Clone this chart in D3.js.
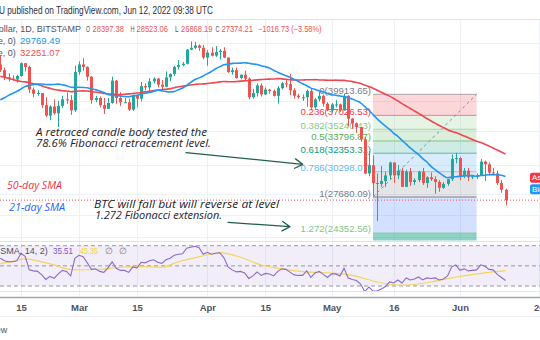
<!DOCTYPE html>
<html><head><meta charset="utf-8">
<script src="https://cdn.jsdelivr.net/npm/d3@7"></script>
<style>
html,body{margin:0;padding:0;background:#fff;overflow:hidden}
svg{display:block}
</style></head><body>
<svg id="c" width="540" height="340"></svg>
<script>
// ---------------- DATA ----------------
const firstDay = "2022-02-10"; // one candle per day, Feb 10 .. Jun 12 2022
const opens = [44400,43500,42400,42200,42100,42600,44600,44000,40600,40000,
40100,38400,37000,38200,37300,38300,39200,39100,37700,43200,
44400,44000,42500,39100,39400,38400,37900,38700,41900,39400,
38800,38800,37800,39700,39300,41100,40900,41800,42200,41300,
41000,42400,42900,44000,44300,44500,46800,47100,47500,47100,
45500,46300,45800,46400,46600,45500,43200,43500,42300,42800,
42200,39500,40100,41200,39900,40600,40400,39700,40800,41500,
41400,40500,39700,39500,39500,40400,38100,39200,39700,38600,
37700,38500,38500,37700,39700,36600,36000,35500,34000,30100,
31000,29100,29000,29300,29900,31300,29900,30400,28700,30300,
29200,29400,30300,29100,29700,29500,29200,28600,29000,29500,
31700,31800,29800,30400,29700,29800,29900,31400,31100,30200,
30100,29100,28397.38];
const highs = [45800,43900,43000,42700,42800,44700,44600,44200,40900,40500,
40100,39500,38400,39200,39000,39700,40200,39800,44200,44900,
45400,44100,42600,39700,39600,39400,39400,42500,42000,40200,
39400,39300,39900,39900,41700,41500,42300,42400,42300,42000,
43300,43000,44200,45100,44800,46900,48200,48100,47700,47600,
46700,47200,47400,46900,47200,45500,43900,43900,42800,43400,
42400,40700,41500,41500,40900,40700,40600,41100,41700,42200,
42900,40800,40000,39900,40600,40800,39400,40300,39900,38800,
38700,39100,38600,40000,39800,36700,36100,35500,34300,32600,
32100,30100,30900,30300,31400,31300,31000,30700,30500,30700,
29600,30400,30700,29800,30200,29800,29400,29200,29500,32200,
32400,31900,30700,30700,29900,30100,31700,31500,31300,30700,
30400,29400,28523.06];
const lows = [43200,42000,41800,41900,41600,42500,43300,40100,39500,39700,
38000,36800,36400,37100,35500,38000,38600,37100,37500,42800,
43400,41900,38600,38800,38100,37200,37900,38600,38600,38300,
38700,37600,37600,38100,38900,40500,40200,41500,40900,40500,
40900,41800,42600,43600,44100,44400,46700,46900,46600,45200,
44200,45700,45600,45200,45400,43100,42800,42200,42100,41900,
39200,39300,39600,39600,39800,40000,39600,38600,40600,40900,
39800,39300,39300,39000,38200,37700,37900,38900,38200,37600,
37400,38100,37500,37700,35600,35300,34800,33700,30000,29800,
27800,25400,28700,28700,29500,29100,29500,28700,28700,28800,
28900,29200,28900,28600,29300,28000,28200,28500,28800,29300,
31200,29400,29600,29300,29500,29500,29900,29300,29900,29900,
28900,28100,26868.19];
const closes = [43500,42400,42200,42100,42600,44600,44000,40600,40000,40100,
38400,37000,38200,37300,38300,39200,39100,37700,43200,44400,
44000,42500,39100,39400,38400,37900,38700,41900,39400,38800,
38800,37800,39700,39300,41100,40900,41800,42200,41300,41000,
42400,42900,44000,44300,44500,46800,47100,47500,47100,45500,
46300,45800,46400,46600,45500,43200,43500,42300,42800,42200,
39500,40100,41200,39900,40600,40400,39700,40800,41500,41400,
40500,39700,39500,39500,40400,38100,39200,39700,38600,37700,
38500,38500,37700,39700,36600,36000,35500,34000,30100,31000,
29100,29000,29300,29900,31300,29900,30400,28700,30300,29200,
29400,30300,29100,29700,29500,29200,28600,29000,29500,31700,
31800,29800,30400,29700,29800,29900,31400,31100,30200,30100,
29100,28400,27374.21];
const sma21 = [39143,39424,39762,40038,40319,40686,41029,41190,41300,41390,
41414,41343,41319,41338,41386,41271,41162,40938,40905,40919,
40900,40852,40695,40562,40386,40162,39881,39781,39724,39667,
39605,39576,39705,39757,39938,40062,40186,40333,40505,40400,
40305,40252,40324,40571,40814,41214,41652,42071,42319,42610,
42967,43300,43710,44038,44333,44433,44557,44581,44610,44652,
44581,44471,44390,44195,44019,43824,43486,43186,42900,42629,
42390,42076,41776,41448,41152,40800,40610,40429,40252,40010,
39833,39786,39671,39600,39443,39224,38990,38719,38210,37710,
37124,36576,36081,35624,35233,34733,34367,33867,33419,32971,
32576,32186,31738,31357,30871,30519,30167,29857,29643,29719,
29757,29790,29857,29876,29871,29805,29876,29910,29981,29971,
29967,29919,29769.49];
const sma50 = [42576,42408,42244,42070,41908,41786,41716,41598,41456,41334,
41148,40942,40778,40608,40506,40428,40380,40300,40326,40378,
40404,40376,40306,40232,40138,40034,39964,39954,39908,39870,
39916,39970,40038,40090,40174,40256,40348,40438,40500,40562,
40640,40724,40866,41006,41064,41172,41266,41338,41398,41420,
41476,41544,41628,41718,41776,41748,41738,41772,41828,41870,
41892,41954,42014,42066,42112,42136,42148,42210,42176,42116,
42046,41990,41998,42000,42040,42044,42054,42010,41994,41972,
41966,41980,41940,41948,41858,41760,41634,41470,41246,41046,
40780,40502,40208,39920,39656,39318,38984,38608,38272,37946,
37608,37298,36952,36614,36294,36014,35716,35450,35184,34974,
34820,34614,34398,34194,33978,33768,33602,33408,33182,32956,
32728,32486,32251.07];
const rsi = [57.5,55,54,54,55,62.5,59.5,46,45,44.5,
41,36.5,39.5,37.5,42,45.5,44.5,40,57.5,60.5,
59,53,46.5,47,44.5,43.5,48,54,47.5,45.5,
45.5,43.5,49,48,53.5,53,55,56,53.5,52.5,
56,57.5,60.5,61.5,62,67.5,68.5,69.5,68,61.5,
63.5,61.5,62.5,63,58,49,46,44,44.5,43,
37.5,40,44,40.5,42.5,42,40,44.5,47,46.5,
43.5,41,40.5,40.5,45,38.5,43,44.5,41.5,38.5,
42,42,40,47.5,38,36.5,35.5,32,24.5,29,
25,25,27,29.5,34,33,36,33,38,36,
37,39,36,38,37.5,38,36,37,40,49,
51,45.5,47,45,45.5,46,51,49.5,46.5,46,
41.5,38.5,35.51];
const rsiSmaDays = [0,3,6,10,13,16,19,24,29,34,39,43,48,53,58,63,67,73,81,85,91,97,104,108,116,122];
const rsiSmaVals = [52.5,54.5,57,54,51,47,45.9,46.6,48.6,49.2,48.6,54.1,59.1,63.1,58.5,50.8,47.5,44.2,42.6,40.5,34,30.8,34,37.3,42.5,45.35];

const fibRatios = ["0","0.236","0.382","0.5","0.618","0.786","1","1.272","1.414"];
const fibPrices = [39913.65,37026.53,35240.43,33796.87,32353.31,30298.07,27680.09,24352.56,22615.4];
const fibStart = "2022-05-11", fibEnd = "2022-06-05";

const tickDates = ["2022-02-15","2022-03-01","2022-03-15","2022-04-01","2022-04-15","2022-05-01","2022-05-16","2022-06-01","2022-06-20"];
const tickLabels = ["15","Mar","15","Apr","15","May","16","Jun","20"];
const gridPrices = [24000,26000,28000,31000,35000,39000,43000,48000];
const lastPrice = 27374.21;
const ohlcLabels = ["O","28397.38","H","28523.06","L","26868.19","C","27374.21","\u22121016.73 (\u22123.58%)"];

// ---------------- STYLE ----------------
const UP="#26a69a", DN="#ef5350";
const fibLineColors = ["#787b86","#f23645","#81c784","#4caf50","#089981","#64b5f6","#787b86","#81c784","#787b86"];
const fibZoneColors = ["rgba(242,54,69,0.2)","rgba(129,199,132,0.2)","rgba(76,175,80,0.2)","rgba(8,153,129,0.2)","rgba(100,181,246,0.25)","rgba(120,123,134,0.2)","rgba(41,98,255,0.2)","rgba(8,153,129,0.45)"];
const FONT = "'Liberation Sans', Arial, sans-serif";
const HAND = "'Open Sans', 'DejaVu Sans', sans-serif";

const svg = d3.select("#c");
const P = d3.utcParse("%Y-%m-%d");
const dates = d3.utcDay.range(P(firstDay), d3.utcDay.offset(P(firstDay), closes.length));

const xs = d3.scaleUtc().domain([P("2022-02-15"), P("2022-06-01")]).range([21, 460]);
const ys = d3.scaleLog().domain([fibPrices[0], fibPrices[6]]).range([94.3, 197]);
const yr = d3.scaleLinear().domain([30, 70]).range([286, 245.7]);

const MAIN_TOP = 19.5, MAIN_BOT = 240.5, RSI_TOP = 242, RSI_BOT = 292;

const defs = svg.append("defs");
defs.append("clipPath").attr("id","cm").append("rect").attr("x",0).attr("y",MAIN_TOP).attr("width",540).attr("height",MAIN_BOT-MAIN_TOP);
defs.append("clipPath").attr("id","cr").append("rect").attr("x",0).attr("y",RSI_TOP).attr("width",540).attr("height",RSI_BOT-RSI_TOP);

svg.append("rect").attr("width",540).attr("height",340).attr("fill","#fff");

// grid
const grid = svg.append("g");
grid.selectAll("line.v").data(tickDates).join("line")
  .attr("x1",d=>Math.round(xs(P(d)))+0.5).attr("x2",d=>Math.round(xs(P(d)))+0.5)
  .attr("y1",MAIN_TOP).attr("y2",297).attr("stroke","#edf0f6").attr("stroke-width",1);
grid.append("g").attr("clip-path","url(#cm)").selectAll("line").data(gridPrices).join("line")
  .attr("x1",0).attr("x2",540).attr("y1",d=>Math.round(ys(d))+0.5).attr("y2",d=>Math.round(ys(d))+0.5)
  .attr("stroke","#edf0f6");

// ---------------- MAIN PANE ----------------
const main = svg.append("g").attr("clip-path","url(#cm)");
const fx0 = xs(P(fibStart)), fx1 = xs(P(fibEnd));
main.selectAll("rect.z").data(d3.range(fibPrices.length-1)).join("rect")
  .attr("x",fx0).attr("width",fx1-fx0)
  .attr("y",i=>ys(fibPrices[i])).attr("height",i=>ys(fibPrices[i+1])-ys(fibPrices[i]))
  .attr("fill",i=>fibZoneColors[i]);
main.selectAll("line.f").data(d3.range(fibPrices.length)).join("line")
  .attr("x1",fx0).attr("x2",fx1).attr("y1",i=>ys(fibPrices[i])).attr("y2",i=>ys(fibPrices[i]))
  .attr("stroke",i=>fibLineColors[i]).attr("stroke-width",1).attr("opacity",i=>i==6?0.9:0.6);
main.selectAll("text.f").data(d3.range(fibPrices.length)).join("text")
  .attr("x",fx0-2).attr("y",i=>ys(fibPrices[i])-4).attr("text-anchor","end")
  .attr("dominant-baseline","central").attr("font-family",FONT).attr("font-size",9.6)
  .attr("fill",i=>fibLineColors[i])
  .text(i=>fibRatios[i]+"("+fibPrices[i].toFixed(2)+")");

main.append("line").attr("x1",0).attr("x2",540).attr("y1",ys(lastPrice)).attr("y2",ys(lastPrice))
  .attr("stroke",DN).attr("stroke-dasharray","1,2").attr("stroke-width",1);

const idx = d3.range(closes.length);
const cx = i => Math.round(xs(dates[i]));
main.selectAll("line.w").data(idx).join("line")
  .attr("x1",i=>cx(i)+0.5).attr("x2",i=>cx(i)+0.5)
  .attr("y1",i=>ys(highs[i])).attr("y2",i=>ys(lows[i]))
  .attr("stroke",i=>closes[i]>=opens[i]?UP:DN).attr("stroke-width",1);
main.selectAll("rect.b").data(idx).join("rect")
  .attr("x",i=>cx(i)-1).attr("width",3)
  .attr("y",i=>ys(Math.max(opens[i],closes[i])))
  .attr("height",i=>Math.max(1,Math.abs(ys(opens[i])-ys(closes[i]))))
  .attr("fill",i=>closes[i]>=opens[i]?UP:DN);

const lineGen = arr => d3.line().x((d,i)=>xs(dates[i])).y(d=>ys(d)).curve(d3.curveMonotoneX)(arr);
main.append("path").attr("d",lineGen(sma50)).attr("fill","none").attr("stroke","#f0474f").attr("stroke-width",1.6);
main.append("path").attr("d",lineGen(sma21)).attr("fill","none").attr("stroke","#2196f3").attr("stroke-width",1.6);

main.append("line").attr("x1",fx0).attr("y1",ys(fibPrices[6])).attr("x2",fx1).attr("y2",ys(fibPrices[0]))
  .attr("stroke","#8a8d96").attr("stroke-dasharray","3,3").attr("stroke-width",1);

// ---------------- RSI PANE ----------------
const rp = svg.append("g").attr("clip-path","url(#cr)");
rp.append("rect").attr("x",0).attr("width",540).attr("y",yr(70)).attr("height",yr(30)-yr(70)).attr("fill","rgba(126,87,194,0.1)");
rp.selectAll("line.l").data([70,50,30]).join("line")
  .attr("x1",0).attr("x2",540).attr("y1",d=>yr(d)).attr("y2",d=>yr(d))
  .attr("stroke","#9598a1").attr("stroke-dasharray","4,3").attr("stroke-width",1);
rp.append("path").attr("d",d3.line().x((d,i)=>xs(dates[rsiSmaDays[i]])).y(d=>yr(d)).curve(d3.curveMonotoneX)(rsiSmaVals))
  .attr("fill","none").attr("stroke","#f3d55c").attr("stroke-width",1.2);
rp.append("path").attr("d",d3.line().x((d,i)=>xs(dates[i])).y(d=>yr(d))(rsi))
  .attr("fill","none").attr("stroke","#8b69c9").attr("stroke-width",1.1);

svg.append("line").attr("x1",0).attr("x2",540).attr("y1",MAIN_TOP).attr("y2",MAIN_TOP).attr("stroke","#e0e3eb");
svg.append("line").attr("x1",0).attr("x2",540).attr("y1",241.5).attr("y2",241.5).attr("stroke","#e0e3eb");
svg.append("line").attr("x1",0).attr("x2",540).attr("y1",291.5).attr("y2",291.5).attr("stroke","#e0e3eb");
svg.append("line").attr("x1",0).attr("x2",540).attr("y1",297.5).attr("y2",297.5).attr("stroke","#a3a6af").attr("stroke-width",1.6);
svg.append("line").attr("x1",0).attr("x2",540).attr("y1",316.5).attr("y2",316.5).attr("stroke","#eef0f4");

const xa = svg.append("g").attr("transform","translate(0,298)")
  .call(d3.axisBottom(xs).tickValues(tickDates.map(P)).tickFormat((d,i)=>tickLabels[i]).tickSize(0).tickPadding(6));
xa.select(".domain").remove();
xa.selectAll("text").attr("font-family",FONT).attr("font-size",9.5).attr("fill","#50535e").attr("font-weight","bold");

// ---------------- TEXT ----------------
function txt(x,y,s,opt){ const t=svg.append("text").attr("x",x).attr("y",y).attr("dominant-baseline","central")
  .attr("font-family",opt.font||FONT).attr("font-size",opt.size||10).attr("fill",opt.fill||"#131722");
  if(opt.anchor) t.attr("text-anchor",opt.anchor); if(opt.italic) t.attr("font-style","italic");
  if(opt.weight) t.attr("font-weight",opt.weight); t.text(s);
  if(opt.w) t.attr("textLength",opt.w).attr("lengthAdjust","spacingAndGlyphs"); return t; }

txt(-1,10,"U published on TradingView.com, Jun 12, 2022 09:38 UTC",{size:10.5,fill:"#2a2e39",w:214});

const LS = 9;
const ohlcX = [86,92.5,130.5,136.5,175,181,215.5,221.5,258];
const ohlcW = [4,31.5,4,31.5,3.5,31.5,4,31.5,63.5];
ohlcLabels.forEach((s,i)=>txt(ohlcX[i],29.3,s,{size:LS,fill:(i%2==0&&i<8)?"#50535e":DN,w:ohlcW[i]}));
txt(81,29.3,"Bitcoin / U.S. Dollar, 1D, BITSTAMP",{size:LS,fill:"#50535e",anchor:"end"});
txt(15.7,41.3,"MA (21, close, 0)",{size:LS,fill:"#50535e",anchor:"end"});
txt(20,41.3,"29769.49",{size:LS,fill:"#2196f3",w:40});
txt(15.7,52.7,"MA (50, close, 0)",{size:LS,fill:"#50535e",anchor:"end"});
txt(20,52.7,"32251.07",{size:LS,fill:DN,w:40});

txt(47.7,250.7,"RSI (14, close, SMA, 14, 2)",{size:LS,fill:"#50535e",anchor:"end"});
txt(53,250.7,"35.51",{size:LS,fill:"#7e57c2",w:20});
txt(80,250.7,"45.35",{size:LS,fill:"#f5d33f",w:18});
txt(105,250.7,"\u2205",{size:LS,fill:"#787b86"});
txt(119,250.7,"\u2205",{size:LS,fill:"#787b86"});

const AS = 11.5;
txt(36,131,"A retraced candle body tested the",{font:HAND,italic:true,size:AS,fill:"#1e222d",w:171});
txt(36,142.7,"78.6% Fibonacci retracement level.",{font:HAND,italic:true,size:AS,fill:"#1e222d",w:175});
txt(7,184.3,"50-day SMA",{font:HAND,italic:true,size:AS,fill:"#f23645",w:55});
txt(9,206.7,"21-day SMA",{font:HAND,italic:true,size:AS,fill:"#2962ff",w:56});
txt(94,203.3,"BTC will fall but will reverse at level",{font:HAND,italic:true,size:AS,fill:"#1e222d",w:185});
txt(95,214,"1.272 Fibonacci extension.",{font:HAND,italic:true,size:AS,fill:"#1e222d",w:127});

function arrow(x1,y1,x2,y2){
  const a=Math.atan2(y2-y1,x2-x1), L=9, w=0.55;
  const p=`M${x1},${y1}L${x2},${y2}M${x2-L*Math.cos(a-w)},${y2-L*Math.sin(a-w)}L${x2},${y2}L${x2-L*Math.cos(a+w)},${y2-L*Math.sin(a+w)}`;
  svg.append("path").attr("d",p).attr("fill","none").attr("stroke","#1f5f4f").attr("stroke-width",1.3).attr("stroke-linecap","round").attr("stroke-linejoin","round");
}
arrow(186,152.7,302.7,164.3);
arrow(228,222.3,290,226.7);

svg.append("rect").attr("x",530).attr("y",172.7).attr("width",14).attr("height",10).attr("rx",2).attr("fill","#f23645");
txt(532,177.7,"Ask",{size:8,fill:"#fff"});
svg.append("rect").attr("x",530).attr("y",184.3).attr("width",14).attr("height",10).attr("rx",2).attr("fill","#2196f3");
txt(532,189.3,"Bid",{size:8,fill:"#fff"});

txt(-12,330,"View",{size:9,fill:"#50535e"});
</script>
</body></html>
